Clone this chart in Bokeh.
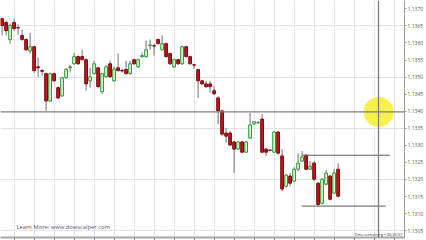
from bokeh.plotting import figure
from bokeh.models import Range1d, FixedTicker, Label, Span, NumeralTickFormatter
from bokeh.embed import file_html
from bokeh.resources import INLINE

# ---- data (bar index, OHLC prices) ----
bars = list(range(85))
opens = [1.13671, 1.13660, 1.13610, 1.13660, 1.13645, 1.13622, 1.13610, 1.13577, 1.13589, 1.13530,
         1.13519, 1.13510, 1.13430, 1.13510, 1.13469, 1.13445, 1.13498, 1.13527, 1.13539, 1.13560,
         1.13560, 1.13551, 1.13489, 1.13510, 1.13527, 1.13457, 1.13501, 1.13539, 1.13489, 1.13527,
         1.13519, 1.13522, 1.13510, 1.13551, 1.13530, 1.13560, 1.13560, 1.13592, 1.13592, 1.13610,
         1.13580, 1.13598, 1.13569, 1.13530, 1.13551, 1.13539, 1.13589, 1.13560, 1.13536, 1.13522,
         1.13489, 1.13480, 1.13480, 1.13460, 1.13439, 1.13401, 1.13336, 1.13336, 1.13310, 1.13289,
         1.13310, 1.13280, 1.13321, 1.13363, 1.13366, 1.13377, 1.13289, 1.13286, 1.13280, 1.13339,
         1.13269, 1.13180, 1.13210, 1.13195, 1.13230, 1.13254, 1.13271, 1.13230, 1.13248, 1.13189,
         1.13130, 1.13186, 1.13210, 1.13160, 1.13230]
highs = [1.13674, 1.13666, 1.13657, 1.13671, 1.13654, 1.13639, 1.13613, 1.13630, 1.13592, 1.13557,
         1.13524, 1.13513, 1.13513, 1.13513, 1.13472, 1.13501, 1.13527, 1.13536, 1.13571, 1.13563,
         1.13580, 1.13554, 1.13527, 1.13548, 1.13530, 1.13513, 1.13536, 1.13548, 1.13530, 1.13569,
         1.13524, 1.13548, 1.13548, 1.13554, 1.13554, 1.13571, 1.13607, 1.13610, 1.13598, 1.13613,
         1.13622, 1.13601, 1.13571, 1.13554, 1.13554, 1.13592, 1.13592, 1.13563, 1.13539, 1.13524,
         1.13492, 1.13489, 1.13489, 1.13474, 1.13445, 1.13404, 1.13351, 1.13342, 1.13313, 1.13313,
         1.13313, 1.13313, 1.13395, 1.13371, 1.13371, 1.13392, 1.13292, 1.13289, 1.13342, 1.13342,
         1.13289, 1.13216, 1.13219, 1.13236, 1.13277, 1.13283, 1.13274, 1.13254, 1.13254, 1.13192,
         1.13204, 1.13227, 1.13213, 1.13230, 1.13248]
lows = [1.13622, 1.13622, 1.13598, 1.13636, 1.13624, 1.13607, 1.13577, 1.13569, 1.13513, 1.13501,
        1.13504, 1.13401, 1.13427, 1.13486, 1.13436, 1.13442, 1.13495, 1.13513, 1.13536, 1.13536,
        1.13548, 1.13460, 1.13469, 1.13507, 1.13469, 1.13451, 1.13498, 1.13498, 1.13486, 1.13516,
        1.13513, 1.13507, 1.13507, 1.13536, 1.13527, 1.13557, 1.13557, 1.13580, 1.13563, 1.13595,
        1.13577, 1.13557, 1.13536, 1.13527, 1.13536, 1.13536, 1.13557, 1.13536, 1.13524, 1.13439,
        1.13477, 1.13469, 1.13454, 1.13448, 1.13363, 1.13327, 1.13307, 1.13298, 1.13219, 1.13286,
        1.13277, 1.13277, 1.13319, 1.13360, 1.13363, 1.13277, 1.13269, 1.13283, 1.13277, 1.13274,
        1.13166, 1.13177, 1.13180, 1.13192, 1.13224, 1.13251, 1.13227, 1.13227, 1.13195, 1.13122,
        1.13127, 1.13183, 1.13139, 1.13157, 1.13148]
closes = [1.13651, 1.13636, 1.13651, 1.13642, 1.13644, 1.13610, 1.13580, 1.13589, 1.13519, 1.13527,
          1.13517, 1.13430, 1.13510, 1.13489, 1.13439, 1.13498, 1.13522, 1.13530, 1.13560, 1.13539,
          1.13551, 1.13480, 1.13501, 1.13539, 1.13472, 1.13510, 1.13530, 1.13501, 1.13524, 1.13519,
          1.13518, 1.13510, 1.13539, 1.13539, 1.13551, 1.13563, 1.13580, 1.13594, 1.13591, 1.13598,
          1.13598, 1.13560, 1.13539, 1.13551, 1.13539, 1.13589, 1.13560, 1.13539, 1.13535, 1.13489,
          1.13480, 1.13472, 1.13472, 1.13451, 1.13401, 1.13333, 1.13327, 1.13301, 1.13289, 1.13310,
          1.13280, 1.13310, 1.13360, 1.13369, 1.13367, 1.13280, 1.13280, 1.13285, 1.13339, 1.13277,
          1.13172, 1.13213, 1.13189, 1.13230, 1.13248, 1.13266, 1.13230, 1.13239, 1.13201, 1.13127,
          1.13201, 1.13219, 1.13142, 1.13219, 1.13151]

price_ticks = [1.1370, 1.1365, 1.1360, 1.1355, 1.1350, 1.1345, 1.1340, 1.1335,
               1.1330, 1.1325, 1.1320, 1.1315, 1.1310, 1.1305]
grid_prices = [1.1365, 1.1350, 1.1335, 1.1320, 1.1305]
time_ticks = [3, 8, 13, 18, 23, 28, 33, 38, 43, 48, 53, 58, 63, 68, 73, 78,
              83, 88, 93, 98]

level_prices = [1.13271, 1.13122]
level_start = [75.1, 74.9]
level_end = [96.9, 95.9]

cross_bar = 94.1
cross_price = 1.13398

learn_text = "Learn More:  www.dowscalper.com"
timer_text = "Time remaining \u2022 00:20:57"

# ---- figure ----
X_END = 100.6
p = figure(width=426, height=240, output_backend="svg", toolbar_location=None,
           x_range=Range1d(-0.4, X_END), y_range=Range1d(1.13030, 1.137244),
           y_axis_location="right", min_border=0)
p.background_fill_color = "white"
p.border_fill_color = "white"
p.outline_line_color = None

# grid
p.xgrid.ticker = FixedTicker(ticks=time_ticks)
p.ygrid.ticker = FixedTicker(ticks=grid_prices)
p.xgrid.grid_line_color = "#e4e6ea"
p.ygrid.grid_line_color = "#dfe1e5"

# right price axis
ya = p.yaxis[0]
ya.ticker = FixedTicker(ticks=price_ticks)
ya.formatter = NumeralTickFormatter(format="0.0000")
ya.major_label_text_font_size = "5px"
ya.major_label_text_color = "#555555"
ya.major_label_text_font = "Open Sans"
ya.major_label_standoff = 1
ya.major_tick_out = 2
ya.major_tick_in = 0
ya.minor_tick_out = 0
ya.minor_tick_in = 0
ya.axis_line_color = "#9a9a9a"
ya.major_tick_line_color = "#9a9a9a"

# bottom time axis: tick marks only (minor ticks carry no labels)
xa = p.xaxis[0]
xa.ticker = FixedTicker(ticks=[], minor_ticks=time_ticks)
xa.major_label_standoff = 0
xa.major_tick_out = 0
xa.major_tick_in = 0
xa.minor_tick_out = 3
xa.minor_tick_in = 0
xa.axis_line_color = "#a8a8a8"
xa.axis_line_width = 2
xa.minor_tick_line_color = "#8a8a8a"

# highlight circle
p.scatter(x=[cross_bar], y=[cross_price], size=30, fill_color="#f7f03a",
          fill_alpha=0.9, line_color=None)

# candles
inc = [i for i in bars if closes[i] > opens[i]]
dec = [i for i in bars if closes[i] <= opens[i]]
p.segment(x0=bars, y0=lows, x1=bars, y1=highs, line_color="#707070", line_width=1)
p.vbar(x=[bars[i] for i in inc], width=0.7,
       top=[closes[i] for i in inc], bottom=[opens[i] for i in inc],
       fill_color="#d3f2cc", line_color="#2f9a3c", line_width=1)
p.vbar(x=[bars[i] for i in dec], width=0.7,
       top=[opens[i] for i in dec], bottom=[closes[i] for i in dec],
       fill_color="#bb141c", line_color="#820b10", line_width=1)

# level lines
p.segment(x0=level_start, y0=level_prices, x1=level_end, y1=level_prices,
          line_color="#5a5a5a", line_width=1)

# crosshair
p.add_layout(Span(location=cross_bar, dimension="height", line_color="#7d7d7d", line_width=1.3))
p.add_layout(Span(location=cross_price, dimension="width", line_color="#7d7d7d", line_width=1.3))

# price tags at the axis
p.add_layout(Label(x=X_END, y=closes[-1], text=f"{closes[-1]:.5f}", text_font_size="5px",
                   text_color="white", background_fill_color="black", text_baseline="middle",
                   text_font="Open Sans", x_offset=1))
p.add_layout(Label(x=X_END, y=cross_price, text=f"{cross_price:.5f}", text_font_size="5px",
                   text_color="#333333", background_fill_color="white", border_line_color="#777777",
                   text_baseline="middle", text_font="Open Sans", x_offset=1))

# texts
p.add_layout(Label(x=3.6, y=1.13061, text=learn_text, text_font_size="5.8px",
                   text_color="#4b5866", text_baseline="middle", text_font="Open Sans"))
p.add_layout(Label(x=X_END, y=1.13040, text=timer_text, text_font_size="4px",
                   text_color="#333333", text_baseline="middle", text_align="right",
                   text_font="Open Sans", x_offset=-2))

open("out.html", "w").write(file_html(p, INLINE))
